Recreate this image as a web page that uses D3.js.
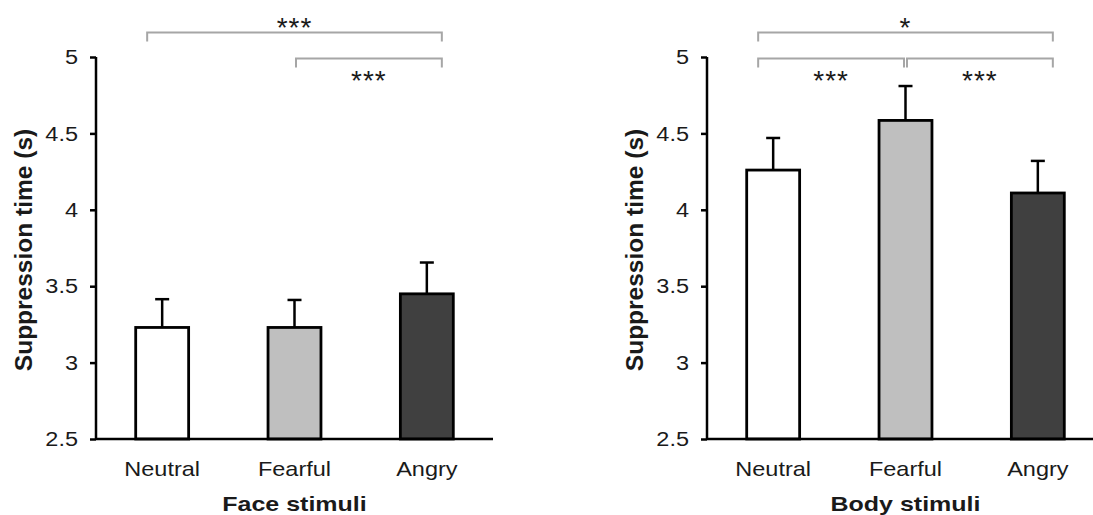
<!DOCTYPE html>
<html>
<head>
  <meta charset="UTF-8" />
  <title>Suppression time</title>
  <script src="https://d3js.org/d3.v7.min.js"></script>
  <style>
    body { margin: 0; background: #fff; }
    text { font-family: "Liberation Sans", Arial, sans-serif; fill: #1a1a1a; }
  </style>
</head>
<body>
  <div id="chart"></div>

  <script>
    // data
    const categories = ["Neutral", "Fearful", "Angry"];
    const faceMeans = [3.23, 3.23, 3.45];
    const faceErrors = [0.185, 0.18, 0.205];
    const bodyMeans = [4.26, 4.585, 4.11];
    const bodyErrors = [0.21, 0.225, 0.21];
    const yTicks = [2.5, 3, 3.5, 4, 4.5, 5];
    const barColors = ["#ffffff", "#bfbfbf", "#404040"];

    // significance brackets: from / to category, row (0 = top), label, label side
    const faceBrackets = [
      { from: "Neutral", to: "Angry", row: 0, label: "***", side: "above" },
      { from: "Fearful", to: "Angry", row: 1, label: "***", side: "below" }
    ];
    const bodyBrackets = [
      { from: "Neutral", to: "Angry", row: 0, label: "*", side: "above" },
      { from: "Neutral", to: "Fearful", row: 1, label: "***", side: "below" },
      { from: "Fearful", to: "Angry", row: 1, label: "***", side: "below" }
    ];

    const W = 1093, H = 515;
    const SX = 1.12; // the text in the figure looks a bit stretched sideways

    const svg = d3.select("#chart")
      .append("svg")
      .attr("width", W)
      .attr("height", H);

    const y = d3.scaleLinear().domain([2.5, 5]).range([439, 57]);

    function drawPanel(left, means, errors, brackets, title) {
      const x = d3.scaleBand()
        .domain(categories)
        .range([left, left + 397])
        .paddingInner(0.6)
        .paddingOuter(0.3);

      const g = svg.append("g");

      // error bars (upper only), drawn first so bars cover the bottom
      g.selectAll(".err")
        .data(categories)
        .enter()
        .append("line")
        .attr("x1", d => x(d) + x.bandwidth() / 2)
        .attr("x2", d => x(d) + x.bandwidth() / 2)
        .attr("y1", (d, i) => y(means[i]))
        .attr("y2", (d, i) => y(means[i] + errors[i]))
        .attr("stroke", "#000")
        .attr("stroke-width", 2.5);
      g.selectAll(".cap")
        .data(categories)
        .enter()
        .append("line")
        .attr("x1", d => x(d) + x.bandwidth() / 2 - 7)
        .attr("x2", d => x(d) + x.bandwidth() / 2 + 7)
        .attr("y1", (d, i) => y(means[i] + errors[i]))
        .attr("y2", (d, i) => y(means[i] + errors[i]))
        .attr("stroke", "#000")
        .attr("stroke-width", 2.5);

      // bars
      g.selectAll("rect")
        .data(categories)
        .enter()
        .append("rect")
        .attr("x", d => x(d))
        .attr("y", (d, i) => y(means[i]))
        .attr("width", x.bandwidth())
        .attr("height", (d, i) => y(2.5) - y(means[i]))
        .attr("fill", (d, i) => barColors[i])
        .attr("stroke", "#000")
        .attr("stroke-width", 2.8);

      // y axis
      const yAxis = d3.axisLeft(y)
        .tickValues(yTicks)
        .tickFormat(d3.format("~g"))
        .tickSize(6)
        .tickSizeOuter(0)
        .tickPadding(12);
      const ya = g.append("g")
        .attr("transform", "translate(" + left + ",0)")
        .call(yAxis);
      ya.select(".domain").attr("stroke-width", 2.5).attr("d", "M0," + y(5) + "V" + y(2.5));
      ya.selectAll(".tick line").attr("stroke-width", 2.5);
      ya.selectAll(".tick text")
        .attr("x", -18 / SX)
        .attr("transform", "scale(" + SX + ",1)")
        .style("font-size", "21px")
        .attr("fill", "#1a1a1a");

      // x axis
      const xAxis = d3.axisBottom(x).tickSize(0).tickPadding(22);
      const xa = g.append("g")
        .attr("transform", "translate(0," + y(2.5) + ")")
        .call(xAxis);
      xa.select(".domain").attr("stroke-width", 2.5).attr("d", "M" + left + ",0H" + (left + 397));
      xa.selectAll(".tick text")
        .attr("transform", "scale(" + SX + ",1)")
        .style("font-size", "21px")
        .attr("fill", "#1a1a1a");

      // axis titles
      g.append("text")
        .attr("transform", "translate(" + (left - 64) + ",250) rotate(-90)")
        .attr("text-anchor", "middle")
        .style("font-size", "24.5px")
        .style("font-weight", "bold")
        .text("Suppression time (s)");

      g.append("text")
        .attr("transform", "translate(" + (left + 397 / 2) + ",511) scale(1.19,1)")
        .attr("text-anchor", "middle")
        .style("font-size", "21px")
        .style("font-weight", "bold")
        .text(title);

      // significance brackets
      const rowY = [32.5, 58.5];
      const first = categories[0], last = categories[categories.length - 1];
      const bx0 = b => x(b.from) + x.bandwidth() / 2 + (b.from === first ? -15 : 1.5);
      const bx1 = b => x(b.to) + x.bandwidth() / 2 + (b.to === last ? 15 : -1.5);

      g.selectAll(".bracket")
        .data(brackets)
        .enter()
        .append("path")
        .attr("d", b => {
          const yy = rowY[b.row];
          return "M" + bx0(b) + "," + (yy + 9) + "V" + yy + "H" + bx1(b) + "V" + (yy + 9);
        })
        .attr("fill", "none")
        .attr("stroke", "#a6a6a6")
        .attr("stroke-width", 2);

      g.selectAll(".stars")
        .data(brackets)
        .enter()
        .append("text")
        .attr("transform", b => {
          const cx = (bx0(b) + bx1(b)) / 2;
          const ty = b.side === "above" ? rowY[b.row] + 4 : rowY[b.row] + 31;
          return "translate(" + cx + "," + ty + ")";
        })
        .attr("text-anchor", "middle")
        .style("font-size", "28px")
        .style("letter-spacing", "1px")
        .text(b => b.label);
    }

    drawPanel(96, faceMeans, faceErrors, faceBrackets, "Face stimuli");
    drawPanel(707, bodyMeans, bodyErrors, bodyBrackets, "Body stimuli");
  </script>
</body>
</html>
